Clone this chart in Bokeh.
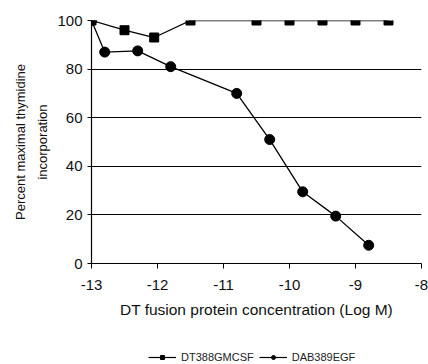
from bokeh.plotting import figure
from bokeh.models import Range1d, Legend, LegendItem, FixedTicker
from bokeh.layouts import column
from bokeh.embed import file_html
from bokeh.resources import INLINE

# Data
log_conc_gm = [-13, -12.5, -12.05, -11.5, -10.5, -10, -9.5, -9, -8.5]
pct_gm = [100, 96, 93, 100, 100, 100, 100, 100, 100]
log_conc_egf = [-13, -12.8, -12.3, -11.8, -10.8, -10.3, -9.8, -9.3, -8.8]
pct_egf = [100, 87, 87.5, 81, 70, 51, 29.5, 19.5, 7.5]
x_ticks = [-13, -12, -11, -10, -9, -8]
y_ticks = [0, 20, 40, 60, 80, 100]
series_names = ["DT388GMCSF", "DAB389EGF"]

FONT = "Liberation Sans"

p = figure(width=428, height=338, output_backend="svg", toolbar_location=None,
           x_range=Range1d(-13, -8), y_range=Range1d(0, 100),
           min_border_left=91, min_border_right=7, min_border_top=20,
           min_border_bottom=75)
p.outline_line_color = None
p.xgrid.grid_line_color = None
p.ygrid.grid_line_color = "black"
p.ygrid.grid_line_width = 1
p.ygrid.ticker = FixedTicker(ticks=y_ticks)

for ax in (p.xaxis[0], p.yaxis[0]):
    ax.axis_line_color = "black"
    ax.axis_line_width = 1.2
    ax.major_tick_line_color = "black"
    ax.minor_tick_line_color = None
    ax.major_tick_in = 0
    ax.major_tick_out = 5
    ax.major_label_text_font = FONT
    ax.major_label_text_font_size = "15px"
    ax.major_label_text_color = "#111111"
    ax.axis_label_text_font = FONT
    ax.axis_label_text_font_style = "normal"
    ax.axis_label_text_color = "#111111"

p.xaxis.ticker = FixedTicker(ticks=x_ticks)
p.xaxis.major_label_overrides = {t: str(t) for t in x_ticks}
p.yaxis.ticker = FixedTicker(ticks=y_ticks)
p.xaxis.major_label_standoff = 11
p.xaxis.axis_label = "DT fusion protein concentration (Log M)"
p.xaxis.axis_label_text_font_size = "15.5px"
p.xaxis.axis_label_standoff = 8
p.yaxis.major_tick_out = 4
p.yaxis.major_label_standoff = 5
p.yaxis.axis_label = "Percent maximal thymidine\nincorporation"
p.yaxis.axis_label_text_font_size = "13px"
p.yaxis.axis_label_text_line_height = 1.5
p.yaxis.axis_label_standoff = 4

p.line(log_conc_gm, pct_gm, line_color="black", line_width=1.3)
p.scatter(log_conc_gm, pct_gm, marker="square", size=9, fill_color="black", line_color="black")
p.line(log_conc_egf, pct_egf, line_color="black", line_width=1.3)
p.scatter(log_conc_egf, pct_egf, marker="circle", size=10, fill_color="black", line_color="black")

# small strip holding the legend beneath the chart
nan = float("nan")
lg = figure(width=428, height=26, output_backend="svg", toolbar_location=None,
            x_range=Range1d(0, 1), y_range=Range1d(0, 1),
            min_border=0, min_border_left=0, min_border_right=0,
            min_border_top=0, min_border_bottom=0)
lg.axis.visible = False
lg.grid.visible = False
lg.outline_line_color = None
k1 = lg.line([nan], [nan], line_color="black", line_width=1.2)
m1 = lg.scatter([nan], [nan], marker="square", size=7, fill_color="black", line_color="black")
k2 = lg.line([nan], [nan], line_color="black", line_width=1.2)
m2 = lg.scatter([nan], [nan], marker="circle", size=8, fill_color="black", line_color="black")

legend = Legend(items=[LegendItem(label=series_names[0], renderers=[k1, m1]),
                       LegendItem(label=series_names[1], renderers=[k2, m2])],
                orientation="horizontal", location=(57, 1),
                border_line_color=None, background_fill_alpha=0,
                label_text_font=FONT, label_text_font_size="11px",
                label_text_color="#222222",
                glyph_width=28, glyph_height=10, label_height=10,
                label_standoff=5, spacing=5, padding=0, margin=0)
lg.add_layout(legend, "center")

layout = column(p, lg, spacing=0)
open("out.html", "w").write(file_html(layout, INLINE))
